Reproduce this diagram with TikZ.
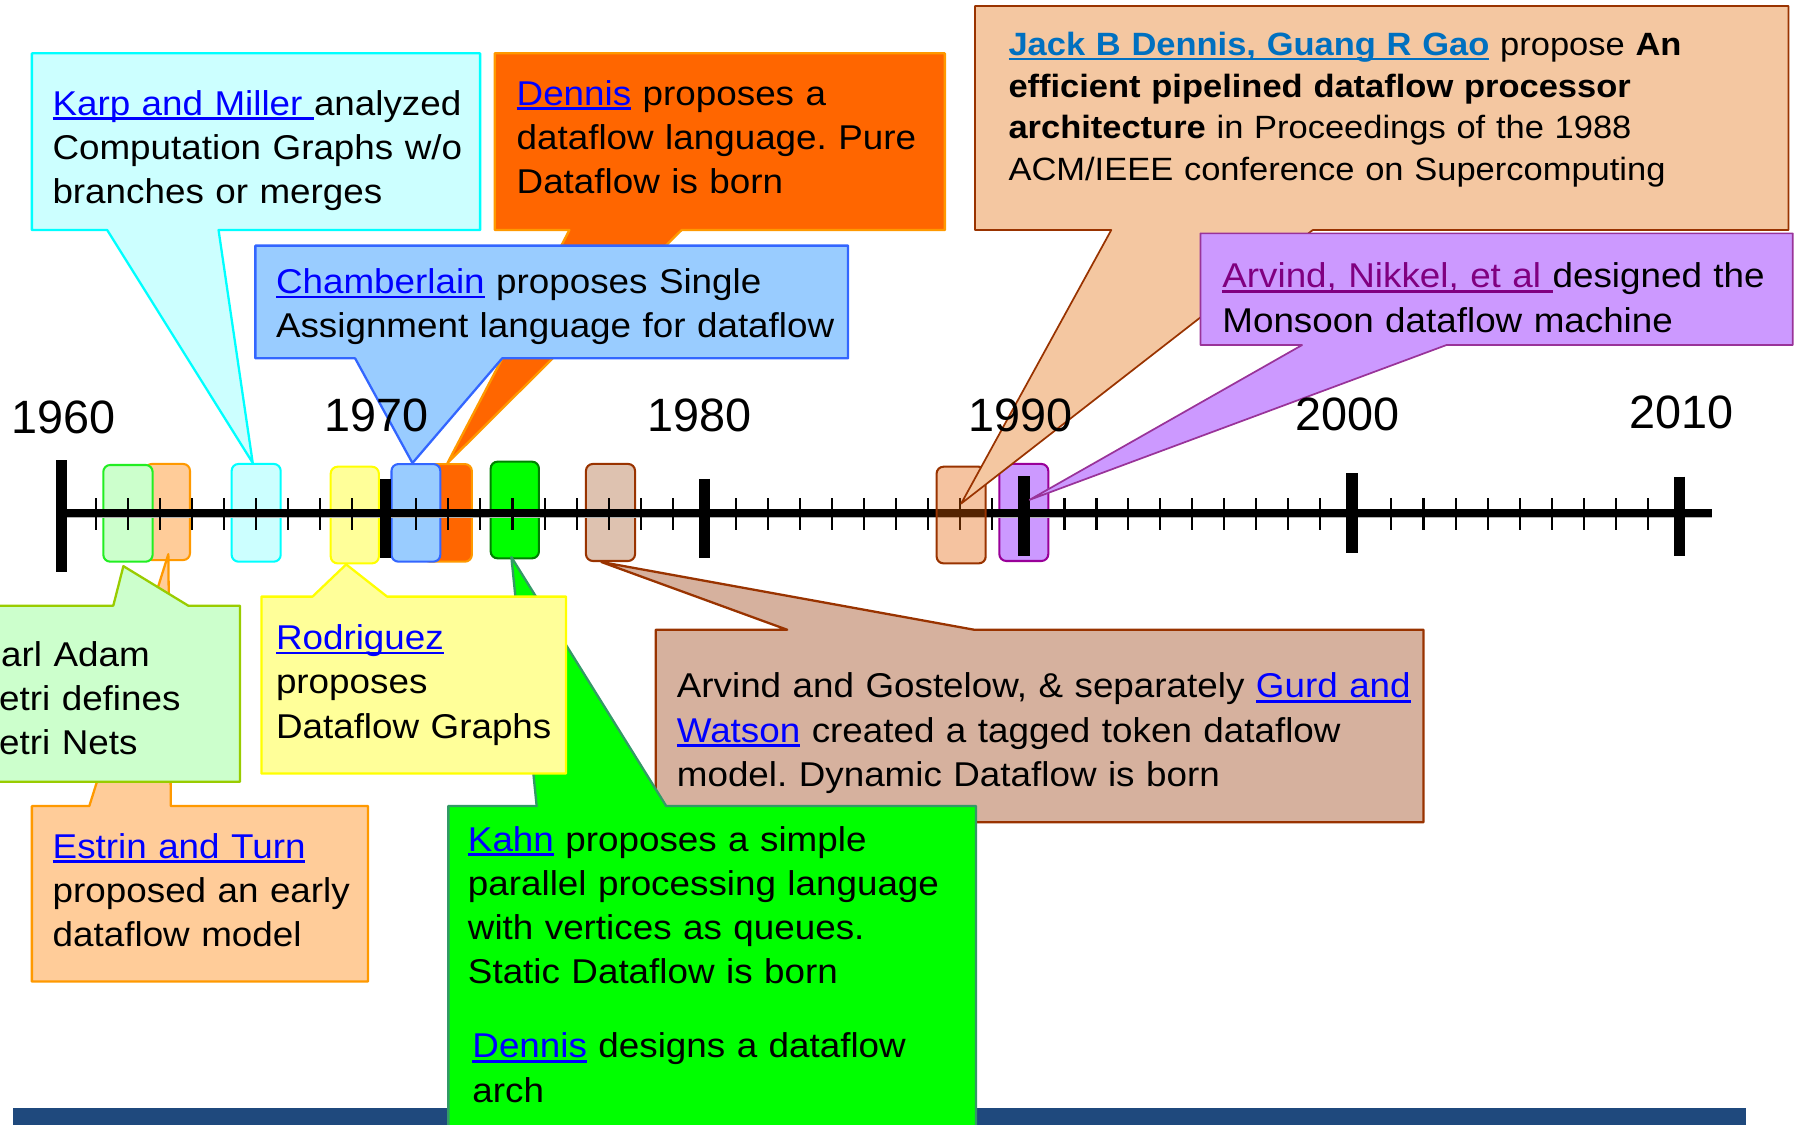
\documentclass[tikz,border=0pt]{standalone}
\usepackage{fontspec}
\setmainfont{Liberation Sans}[FakeStretch=1.07]
\newfontfamily\yearfont{Liberation Sans}
\usetikzlibrary{calc,fit}
\frenchspacing

% fills and outlines
\definecolor{cyanfill}{HTML}{CCFFFF}\definecolor{cyanline}{HTML}{00FFFF}
\definecolor{orgfill}{HTML}{FF6600}\definecolor{orgline}{HTML}{FF9900}
\definecolor{bluefill}{HTML}{99CCFF}\definecolor{blueline}{HTML}{3366FF}
\definecolor{peachfill}{HTML}{F4C7A1}\definecolor{rust}{HTML}{993300}
\definecolor{peachglass}{HTML}{E45E00}
\definecolor{lilacfill}{HTML}{CC99FF}\definecolor{lilacline}{HTML}{993399}
\definecolor{lilacmark}{HTML}{990099}
\definecolor{mintfill}{HTML}{CCFFCC}\definecolor{mintline}{HTML}{99CC00}
\definecolor{mintmark}{HTML}{22EE22}
\definecolor{apricot}{HTML}{FFCC99}
\definecolor{lemonfill}{HTML}{FFFF99}\definecolor{lemonline}{HTML}{FFFF00}
\definecolor{limefill}{HTML}{00FF00}\definecolor{limeline}{HTML}{339966}
\definecolor{limemark}{HTML}{008000}
\definecolor{tanfill}{HTML}{D6B19E}\definecolor{tanmark}{HTML}{DEC2B0}
\definecolor{navy}{HTML}{1F497D}
\definecolor{lnkblue}{HTML}{0000FF}\definecolor{gaoblue}{HTML}{0070C0}
\definecolor{visited}{HTML}{800080}

% underlined hyperlink text
\newcommand\ulink[2][lnkblue]{\leavevmode{\color{#1}\setbox0=\hbox{#2}\rlap{\rule[-0.14em]{\wd0}{0.075em}}\box0}}

\begin{document}
\begin{tikzpicture}[x=0.5pt,y=-0.5pt,
  tlmarker/.style={rounded corners=3pt,line width=0.9pt,inner sep=0pt},
  callout/.style={line width=1pt,line join=round},
  thincallout/.style={line width=0.75pt,line join=round},
  txt/.style={anchor=base west,inner sep=0pt,align=left,text width=380pt,
    font=\fontsize{15}{19.3}\selectfont},
  gaotxt/.style={txt,font=\fontsize{14.05}{18.1}\selectfont},
  yr/.style={inner sep=0pt,font=\yearfont\fontsize{20.4}{24}\selectfont},
  minortick/.style={line width=0.9pt},
  majortick/.style={line width=5pt}]

\useasboundingbox (0,0) rectangle (1568,981);
\clip (0,0) rectangle (1568,981);

% event markers on the time line
\node[tlmarker,fill=apricot,draw=orgline,fit={(126.5,404.6) (165.7,488.4)}] (mestrin) {};
\node[tlmarker,fill=mintfill,draw=mintmark,fit={(90.1,405.5) (133.1,489.8)}] (mpetri) {};
\node[tlmarker,fill=cyanfill,draw=cyanline,fit={(202,404.6) (244.8,489.8)}] (mkarp) {};
\node[tlmarker,fill=lemonfill,draw=lemonline,fit={(288.4,407) (330.4,491.3)}] (mrod) {};
\node[tlmarker,fill=orgfill,draw=orgline,fit={(369,404.7) (411.5,489.8)}] (mden) {};
\node[tlmarker,fill=bluefill,draw=blueline,fit={(341.4,404.7) (384,489.8)}] (mcham) {};
\node[tlmarker,fill=limefill,draw=limemark,fit={(427.9,402.6) (470,486.9)}] (mkahn) {};
\node[tlmarker,fill=tanmark,draw=rust,fit={(511,404.6) (553.8,489.2)}] (mag) {};
\node[tlmarker,fill=lilacfill,draw=lilacmark,fit={(871.5,404.6) (914.2,489.2)}] (mmon) {};

% axis with year ticks
\draw[line width=3.9pt,gray!60] (53.6,447.5) -- (1493,447.5);
\draw[line width=3.25pt] (53.6,447.5) -- (1493,447.5);
\foreach \s/\d in {83.6/27.97,363/27.97,641.8/27.9,928.3/27.9,1213.4/27.97}
  \foreach \k in {0,...,8}
    \draw[minortick] ({\s+\k*\d},434.5) -- ({\s+\k*\d},462);
\foreach \x/\a/\b in {53.6/401.2/499.1,336/417.7/486.9,614.3/417.7/486.9,
                      893/415.1/484.9,1179/412.8/482.5,1464.7/415.7/484.9}
  \draw[majortick] (\x,\a) -- (\x,\b);

% translucent marker for 1988
\node[tlmarker,fill=peachglass,fill opacity=0.373,draw=rust,fit={(816.8,407) (859.6,491.3)}] (mgao) {};

% footer bar
\fill[navy] (11.6,966) rectangle (1522.6,995);

% 1988: Dennis and Gao
\filldraw[thincallout,fill=peachfill,draw=rust]
  (850.3,5.2) -- (1559.6,5.2) -- (1559.6,200.6) -- (1144.8,200.6)
  -- ($(mgao.center)+(0,-10)$) -- (969.1,200.6) -- (850.3,200.6) -- cycle;
\node[gaotxt] (gao) at (879.1,48.8)
  {\ulink[gaoblue]{\bfseries Jack B Dennis, Guang R Gao} propose \textbf{An}\\
   \textbf{efficient pipelined dataflow processor}\\
   \textbf{architecture} in Proceedings of the 1988\\
   ACM/IEEE conference on Supercomputing};

% Monsoon
\filldraw[thincallout,fill=lilacfill,draw=lilacline]
  (1046.9,203.5) -- (1563.4,203.5) -- (1563.4,300.9) -- (1261.4,300.9)
  -- ($(mmon.center)+(5,-11)$) -- (1135.5,300.9) -- (1046.9,300.9) -- cycle;
\node[txt] (mon) at (1065.6,251)
  {\ulink[visited]{Arvind, Nikkel, et al\ }designed the\\Monsoon dataflow machine};

% pure dataflow
\filldraw[callout,fill=orgfill,draw=orgline]
  (431.5,46.5) -- (824,46.5) -- (824,200.6) -- (594.4,200.6)
  -- (mden.north) -- (496.6,200.6) -- (431.5,200.6) -- cycle;
\node[txt] (den) at (450.2,91.6)
  {\ulink{Dennis} proposes a\\dataflow language. Pure\\Dataflow is born};

% single assignment
\filldraw[callout,fill=bluefill,draw=blueline]
  (222.7,214.2) -- (739.6,214.2) -- (739.6,312.5) -- (437.9,312.5)
  -- ($(mcham.north)+(-3,0)$) -- (309.7,312.5) -- (222.7,312.5) -- cycle;
\node[txt] (cham) at (240.3,255.8)
  {\ulink{Chamberlain} proposes Single\\Assignment language for dataflow};

% computation graphs
\filldraw[callout,fill=cyanfill,draw=cyanline]
  (27.8,46.5) -- (418.7,46.5) -- (418.7,200.6) -- (190.6,200.6)
  -- ($(mkarp.north)+(-3,0)$) -- (93.5,200.6) -- (27.8,200.6) -- cycle;
\node[txt] (karp) at (45.4,100.3)
  {\ulink{Karp and Miller\ }analyzed\\Computation Graphs w/o\\branches or merges};

% early dataflow model
\filldraw[callout,fill=apricot,draw=orgline]
  (27.8,702.9) -- (77.9,702.9) -- ($(mestrin.south)+(0.7,-6)$)
  -- (149,702.9) -- (320.9,702.9) -- (320.9,856) -- (27.8,856) -- cycle;
\node[txt] (estrin) at (45.6,748.3)
  {\ulink{Estrin and Turn}\\proposed an early\\dataflow model};

% Petri nets
\filldraw[callout,fill=mintfill,draw=mintline]
  (-10,528.2) -- (98.8,528.2) -- ($(mpetri.south)+(-4,3)$)
  -- (164.2,528.2) -- (209.3,528.2) -- (209.3,681.7) -- (-10,681.7) -- cycle;
\node[txt] (petri) at (-22.5,581)
  {Carl Adam\\Petri defines\\Petri Nets};

% dynamic dataflow
\filldraw[callout,fill=tanfill,draw=rust]
  (571.9,549.2) -- (686.5,549.2) -- ($(mag.south)+(-8,0)$)
  -- (849.7,549.2) -- (1241.4,549.2) -- (1241.4,717.1) -- (571.9,717.1) -- cycle;
\node[txt] (ag) at (589.9,608.5)
  {Arvind and Gostelow, \& separately \ulink{Gurd and}\\
   \ulink{Watson} created a tagged token dataflow\\
   model. Dynamic Dataflow is born};

% static dataflow
\filldraw[callout,fill=limefill,draw=limeline]
  (391,702.9) -- (468,702.9) -- ($(mkahn.south)+(-3,-2)$)
  -- (581,702.9) -- (851.1,702.9) -- (851.1,995) -- (391,995) -- cycle;
\node[txt] (kahn) at (407.7,742.2)
  {\ulink{Kahn} proposes a simple\\parallel processing language\\
   with vertices as queues.\\Static Dataflow is born};
\node[txt] (kahnarch) at (411.6,922.6)
  {\ulink{Dennis} designs a dataflow\\arch};

% dataflow graphs
\filldraw[callout,fill=lemonfill,draw=lemonline]
  (228,520.3) -- (272.5,520.3) -- ($(mrod.south)+(-7.5,0)$)
  -- (337.6,520.3) -- (493.6,520.3) -- (493.6,674.6) -- (228,674.6) -- cycle;
\node[txt] (rod) at (240.3,566.4)
  {\ulink{Rodriguez}\\proposes\\Dataflow Graphs};

% decade labels
\node[yr] (y1960) at (55,364) {1960};
\node[yr] (y1970) at (328.7,362.5) {1970};
\node[yr] (y1980) at (610,362.5) {1980};
\node[yr] (y1990) at (890,362.5) {1990};
\node[yr] (y2000) at (1175.5,361) {2000};
\node[yr] (y2010) at (1466,360) {2010};
\end{tikzpicture}
\end{document}
